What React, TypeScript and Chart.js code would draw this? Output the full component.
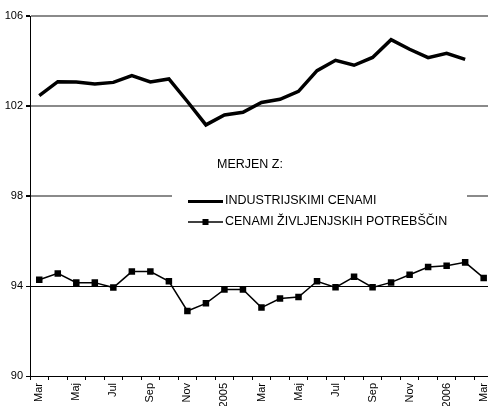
import React, { useEffect, useRef } from "react";
import { Chart, registerables } from "chart.js";

Chart.register(...registerables);

const categories = [
  "Mar", "Apr", "Maj", "Jun", "Jul", "Avg", "Sep", "Okt", "Nov", "Dec",
  "2005", "Feb", "Mar", "Apr", "Maj", "Jun", "Jul", "Avg", "Sep", "Okt",
  "Nov", "Dec", "2006", "Feb", "Mar",
];

const industrijskimiCenami = [
  102.46, 103.08, 103.07, 102.98, 103.05, 103.35, 103.07, 103.2, 102.2, 101.16,
  101.6, 101.72, 102.16, 102.3, 102.65, 103.57, 104.03, 103.81, 104.16, 104.95,
  104.52, 104.15, 104.34, 104.07,
];

const cenamiZivljenjskih = [
  94.28, 94.56, 94.15, 94.15, 93.93, 94.64, 94.64, 94.21, 92.89, 93.23,
  93.85, 93.85, 93.04, 93.44, 93.51, 94.21, 93.94, 94.41, 93.94, 94.16,
  94.5, 94.84, 94.9, 95.05, 94.36,
];

const legendTitle = "MERJEN Z:";
const seriesNames = ["INDUSTRIJSKIMI CENAMI", "CENAMI ŽIVLJENJSKIH POTREBŠČIN"];

const yMin = 90;
const yMax = 106;
const yStep = 4;

const FONT = "'Liberation Sans', Arial, sans-serif";

const legendPlugin = {
  id: "customLegend",
  beforeDatasetsDraw(chart: any) {
    const ctx = chart.ctx as CanvasRenderingContext2D;
    ctx.save();
    ctx.fillStyle = "#ffffff";
    ctx.fillRect(172, 150, 295, 85);
    ctx.fillStyle = "#000000";
    ctx.font = `12.5px ${FONT}`;
    ctx.textBaseline = "middle";
    ctx.textAlign = "left";
    ctx.fillText(legendTitle, 217, 165);
    // series 1
    ctx.strokeStyle = "#000";
    ctx.lineWidth = 3;
    ctx.beginPath();
    ctx.moveTo(188, 201.5);
    ctx.lineTo(223, 201.5);
    ctx.stroke();
    ctx.fillText(seriesNames[0], 225, 201);
    // series 2
    ctx.lineWidth = 1.5;
    ctx.beginPath();
    ctx.moveTo(188, 222);
    ctx.lineTo(223, 222);
    ctx.stroke();
    ctx.fillRect(202.5, 219, 6, 6);
    ctx.fillText(seriesNames[1], 225, 222);
    ctx.restore();
  },
};

export default function App() {
  const ref = useRef<HTMLCanvasElement | null>(null);

  useEffect(() => {
    if (!ref.current) return;
    const chart = new Chart(ref.current, {
      type: "line",
      data: {
        labels: categories,
        datasets: [
          {
            label: seriesNames[0],
            data: industrijskimiCenami,
            borderColor: "#000",
            borderWidth: 3.5,
            pointRadius: 0,
            tension: 0,
            fill: false,
          },
          {
            label: seriesNames[1],
            data: cenamiZivljenjskih,
            borderColor: "#000",
            backgroundColor: "#000",
            borderWidth: 1.5,
            pointStyle: "rect",
            pointRadius: 4.6,
            pointBorderWidth: 0,
            pointBackgroundColor: "#000",
            tension: 0,
            fill: false,
          },
        ],
      },
      options: {
        animation: false,
        responsive: true,
        maintainAspectRatio: false,
        layout: { padding: { top: 16, right: 6, left: 0, bottom: 0 } },
        plugins: {
          legend: { display: false },
          tooltip: { enabled: false },
        },
        scales: {
          x: {
            type: "category",
            offset: true,
            afterFit: (scale: any) => {
              scale.height = 30;
            },
            grid: {
              display: true,
              drawOnChartArea: false,
              offset: true,
              tickLength: 4,
              tickColor: "#000",
            },
            border: { display: true, color: "#000", width: 1 },
            ticks: {
              autoSkip: false,
              maxRotation: 90,
              minRotation: 90,
              padding: 3,
              color: "#000",
              font: { family: FONT, size: 11 },
              callback: (_v: any, i: number) => (i % 2 === 0 ? categories[i] : ""),
            },
          },
          y: {
            min: yMin,
            max: yMax,
            afterFit: (scale: any) => {
              scale.width = 30;
            },
            ticks: {
              stepSize: yStep,
              padding: 3,
              color: "#000",
              font: { family: FONT, size: 11 },
            },
            grid: {
              tickLength: 4,
              tickColor: "#000",
              color: (c: any) =>
                c.tick && (c.tick.value === 94 || c.tick.value === 90) ? "#000" : "#8a8a8a",
              lineWidth: (c: any) =>
                c.tick && (c.tick.value === 94 || c.tick.value === 90) ? 1 : 2,
            },
            border: { display: true, color: "#000", width: 1 },
          },
        },
      },
      plugins: [legendPlugin],
    });
    return () => chart.destroy();
  }, []);

  return (
    <div style={{ position: "fixed", left: 0, top: 0, width: 500, height: 406, background: "#fff" }}>
      <canvas ref={ref} />
    </div>
  );
}
